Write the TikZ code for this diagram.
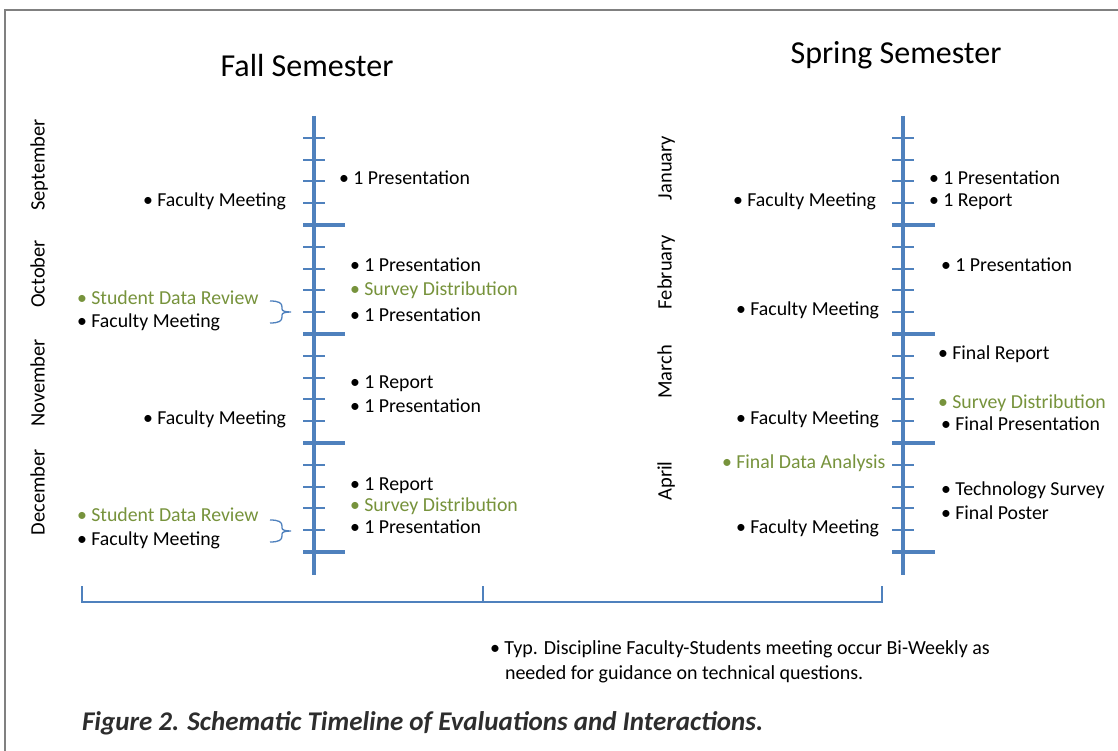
\documentclass[tikz,border=0pt]{standalone}
\usepackage{fontspec}
\setmainfont{Carlito}
\usetikzlibrary{positioning}
\usetikzlibrary{calc}
\definecolor{lineblue}{RGB}{79,129,189}
\definecolor{itemgreen}{RGB}{119,147,60}
\definecolor{framegray}{RGB}{128,128,128}
\definecolor{capgray}{RGB}{45,45,45}

\begin{document}
\begin{tikzpicture}[x=1pt,y=-1pt,every node/.append style={inner sep=0pt,outer sep=0pt},
        item/.style={anchor=west, text height=13pt, text depth=0pt, font=\fontsize{19.8}{22}\selectfont},
        note/.style={item, text=itemgreen},
        month/.style={rotate=90, text height=13pt, text depth=0pt, font=\fontsize{20.5}{23}\selectfont},
        sem/.style={font=\fontsize{32}{36}\selectfont},
        axis/.style={draw=lineblue, line width=4pt},
        minor/.style={draw=lineblue, line width=2pt},
        major/.style={draw=lineblue, line width=4pt},
        brk/.style={draw=lineblue, line width=1.3pt}]
        \useasboundingbox (0,0) rectangle (1118,751);
        \fill[white] (0,0) rectangle (1118,751);
        \draw[framegray, line width=1.2pt] (5,751) -- (5,10) -- (1118,10);

        % semesters
        \node [sem] (fall) at (307,66) {Fall Semester};
        \node [sem] (spring) at (896,55) {Spring Semester};

        % time lines
        \coordinate (fallTop) at (314,116);
        \coordinate (fallBot) at (314,575);
        \coordinate (springTop) at (903,116);
        \coordinate (springBot) at (903,575);
        \draw[axis] (fallTop) -- (fallBot);
        \draw[axis] (springTop) -- (springBot);
        \foreach \m in {0,...,3} {
            \foreach \k in {1,...,4} {
                \draw[minor] (303,116+\m*109+\k*21.8) -- ++(22,0);
                \draw[minor] (892,116+\m*109+\k*21.8) -- ++(22,0);
            }
            \draw[major] (303,225+\m*109) -- ++(42,0);
            \draw[major] (892,225+\m*109) -- ++(43,0);
        }

        % months
        \node [month] (sep) at (38,165) {September};
        \node [month] (oct) at (38,274) {October};
        \node [month] (nov) at (38,383) {November};
        \node [month] (dec) at (38,492) {December};
        \node [month] (jan) at (665,168) {January};
        \node [month] (feb) at (665,272) {February};
        \node [month] (mar) at (665,372) {March};
        \node [month] (apr) at (665,481) {April};

        % fall items
        \node [item] (sepFM) at (143,200) {• Faculty Meeting};
        \node [item] (sepP) at (339,178) {• 1 Presentation};
        \node [item] (octP1) at (350,265) {• 1 Presentation};
        \node [note] (octSD) at (350,289) {• Survey Distribution};
        \node [item] (octP2) at (350,315) {• 1 Presentation};
        \node [note] (octDR) at (77,298) {• Student Data Review};
        \node [item] (octFM) at (77,321) {• Faculty Meeting};
        \node [item] (novR) at (350,382) {• 1 Report};
        \node [item] (novP) at (350,406) {• 1 Presentation};
        \node [item] (novFM) at (143,418) {• Faculty Meeting};
        \node [item] (decR) at (350,484) {• 1 Report};
        \node [note] (decSD) at (350,505) {• Survey Distribution};
        \node [item] (decP) at (350,527) {• 1 Presentation};
        \node [note] (decDR) at (77,515) {• Student Data Review};
        \node [item] (decFM) at (77,539) {• Faculty Meeting};

        % spring items
        \node [item] (janFM) at (733,200) {• Faculty Meeting};
        \node [item] (janP) at (929,178) {• 1 Presentation};
        \node [item] (janR) at (929,200) {• 1 Report};
        \node [item] (febP) at (941,265) {• 1 Presentation};
        \node [item] (febFM) at (736,309) {• Faculty Meeting};
        \node [item] (marR) at (938,353) {• Final Report};
        \node [note] (marSD) at (938,402) {• Survey Distribution};
        \node [item] (marP) at (941,424) {• Final Presentation};
        \node [item] (marFM) at (736,418) {• Faculty Meeting};
        \node [note] (aprDA) at (722,462) {• Final Data Analysis};
        \node [item] (aprTS) at (941,489) {• Technology Survey};
        \node [item] (aprFP) at (941,513) {• Final Poster};
        \node [item] (aprFM) at (736,527) {• Faculty Meeting};

        % braces
        \foreach \c in {312,531}
            \draw[brk] (270,\c-11) .. controls (279,\c-11) and (282,\c-9) .. (282,\c-5)
                -- (282,\c-3) .. controls (282,\c-1) and (285,\c) .. (291,\c)
                .. controls (285,\c) and (282,\c+1) .. (282,\c+3)
                -- (282,\c+5) .. controls (282,\c+9) and (279,\c+11) .. (270,\c+11);

        % year bracket
        \coordinate (yl) at (82,586);
        \coordinate (ym) at (483,586);
        \coordinate (yr) at (882,586);
        \draw[brk] (yl) -- ($(yl)+(0,16)$) -- ($(yr)+(0,16)$) -- (yr);
        \draw[brk] (ym) -- ($(ym)+(0,16)$);

        % remark
        \node [item, font=\fontsize{20}{22}\selectfont] (typ) at (490,648) {• Typ. Discipline Faculty-Students meeting occur Bi-Weekly as};
        \node [item, font=\fontsize{20}{22}\selectfont] (typ2) at (505,673) {needed for guidance on technical questions.};

        \node [anchor=west, text=capgray, font=\fontsize{27}{30}\selectfont\bfseries\itshape] (cap) at (82,723) {Figure 2. Schematic Timeline of Evaluations and Interactions.};
    \end{tikzpicture}
\end{document}
